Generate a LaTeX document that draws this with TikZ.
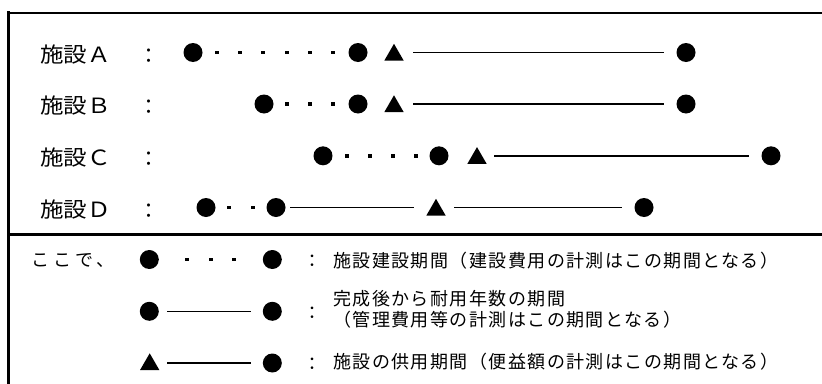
\documentclass[tikz,border=0pt]{standalone}
\usepackage{fontspec}
\usetikzlibrary{shapes.geometric}
\newfontfamily\jpfont{Noto Sans CJK JP}
\newfontfamily\jplabel[FakeStretch=1.12]{Noto Sans CJK JP}
\newfontfamily\jpspaced[LetterSpace=8]{Noto Sans CJK JP}
\newfontfamily\jpwide[LetterSpace=22]{Noto Sans CJK JP}

\tikzset{
  bigdot/.style={circle, fill=black, minimum size=19pt, inner sep=0pt},
  sqdot/.style={rectangle, fill=black, minimum size=3.8pt, inner sep=0pt},
  tri/.style={regular polygon, regular polygon sides=3, fill=black, minimum size=22.4pt, inner sep=0pt},
  conn/.style={line width=1.6pt},
  rowlabel/.style={anchor=west, inner sep=0pt, font=\jplabel\fontsize{21}{24}\selectfont},
  bigcolon/.style={inner sep=0pt, font=\jpfont\fontsize{21}{24}\selectfont},
  smallcolon/.style={inner sep=0pt, font=\jpfont\fontsize{18}{20}\selectfont},
  legtext/.style={anchor=west, inner sep=0pt, align=left, font=\jpspaced\fontsize{18}{18}\selectfont},
  frameline/.style={line cap=rect},
}

\begin{document}
\begin{tikzpicture}[x=1pt,y=-1pt]
\useasboundingbox (0,0) rectangle (822,383);
\fill[white] (0,0) rectangle (822,383);

% frame
\draw[frameline, line width=2.4pt] (8.5,12.8) -- (822,12.8);
\draw[frameline, line width=3pt] (8.5,12.8) -- (8.5,384);
\draw[line width=2.7pt] (8.5,234.7) -- (822,234.7);

% ---- Row A
\node[rowlabel] (labA) at (40,55) {施設Ａ};
\node[bigcolon] (colA) at (149,56) {：};
\node[bigdot] (a1) at (193,52.5) {};
\foreach \x in {217,240,263,287,310,333} \node[sqdot] (as\x) at (\x,52.5) {};
\node[bigdot] (a2) at (358,52.5) {};
\node[tri] (a3) at (394,55) {};
\node[bigdot] (a4) at (686,52.5) {};
\draw[conn, shorten <=19pt, shorten >=22pt] (a3.center |- a4.center) -- (a4.center);

% ---- Row B
\node[rowlabel] (labB) at (40,106) {施設Ｂ};
\node[bigcolon] (colB) at (149,107) {：};
\node[bigdot] (b1) at (264,104) {};
\foreach \x in {287,310,333} \node[sqdot] (bs\x) at (\x,104) {};
\node[bigdot] (b2) at (358,104) {};
\node[tri] (b3) at (394,106.5) {};
\node[bigdot] (b4) at (686,104) {};
\draw[conn, shorten <=19pt, shorten >=22pt] (b3.center |- b4.center) -- (b4.center);

% ---- Row C
\node[rowlabel] (labC) at (40,158) {施設Ｃ};
\node[bigcolon] (colC) at (149,159) {：};
\node[bigdot] (c1) at (323,155.8) {};
\foreach \x in {347,370,393,416} \node[sqdot] (cs\x) at (\x,155.8) {};
\node[bigdot] (c2) at (439,155.8) {};
\node[tri] (c3) at (477,158.3) {};
\node[bigdot] (c4) at (771,155.8) {};
\draw[conn, shorten <=17pt, shorten >=22pt] (c3.center |- c4.center) -- (c4.center);

% ---- Row D
\node[rowlabel] (labD) at (40,210) {施設Ｄ};
\node[bigcolon] (colD) at (149,211) {：};
\node[bigdot] (d1) at (206,207.5) {};
\foreach \x in {229,253} \node[sqdot] (ds\x) at (\x,207.5) {};
\node[bigdot] (d2) at (276,207.5) {};
\node[tri] (d3) at (436,210) {};
\node[bigdot] (d4) at (644,207.5) {};
\draw[conn, shorten <=14pt, shorten >=22pt] (d2.center) -- (d3.center |- d2.center);
\draw[conn, shorten <=18pt, shorten >=22pt] (d3.center |- d4.center) -- (d4.center);

% ---- Legend
\node[anchor=west, inner sep=0pt, font=\jpwide\fontsize{18}{18}\selectfont] (here) at (31,261) {ここで、};

\node[bigdot] (l1a) at (149.3,259.5) {};
\foreach \x in {187.3,210.7,234} \node[sqdot] (ls\x) at (\x,259.5) {};
\node[bigdot] (l1b) at (272.3,259.5) {};
\node[smallcolon] (lc1) at (312.3,261) {：};
\node[legtext] (lt1) at (333,260.8) {施設建設期間（建設費用の計測はこの期間となる）};

\node[bigdot] (l2a) at (149.3,311.3) {};
\node[bigdot] (l2b) at (272.3,311.3) {};
\draw[conn, shorten <=18pt, shorten >=21.5pt] (l2a.center) -- (l2b.center);
\node[smallcolon] (lc2) at (312.3,313) {：};
\node[legtext] (lt2) at (333,309.5) {完成後から耐用年数の期間\\[2.5pt]（管理費用等の計測はこの期間となる）};

\node[tri] (l3a) at (149.7,364.5) {};
\node[bigdot] (l3b) at (272.3,363) {};
\draw[conn, shorten <=17.6pt, shorten >=21.5pt] (l3a.center |- l3b.center) -- (l3b.center);
\node[smallcolon] (lc3) at (312.3,364) {：};
\node[legtext] (lt3) at (333,362) {施設の供用期間（便益額の計測はこの期間となる）};
\end{tikzpicture}
\end{document}
